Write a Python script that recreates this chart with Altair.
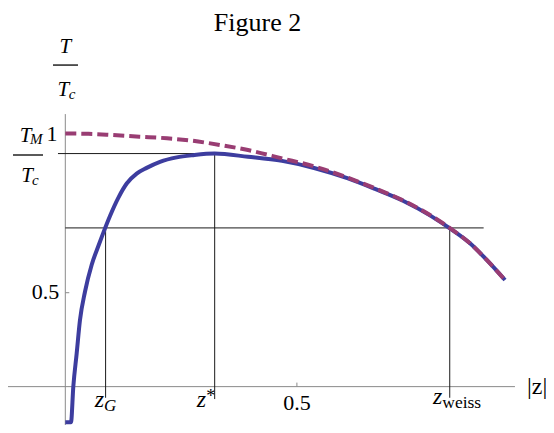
import altair as alt
import pandas as pd

# ---- data ----
blue_z = [0.0, 0.0123, 0.0173, 0.0246, 0.0317, 0.0425, 0.0570, 0.0712, 0.0820, 0.0965,
          0.1144, 0.1326, 0.1541, 0.1757, 0.2044, 0.2405, 0.2763, 0.3225, 0.3944, 0.4678,
          0.5391, 0.6103, 0.6686, 0.7290, 0.7873, 0.8342, 0.8737, 0.9098, 0.9493]
blue_T = [0.093, 0.093, 0.205, 0.310, 0.414, 0.503, 0.588, 0.646, 0.688, 0.741,
          0.798, 0.843, 0.874, 0.892, 0.911, 0.925, 0.932, 0.937, 0.927, 0.914,
          0.891, 0.859, 0.826, 0.789, 0.743, 0.698, 0.655, 0.603, 0.540]

dash_z = [0.0, 0.05, 0.1030, 0.1600, 0.2196, 0.2757, 0.3340, 0.3944, 0.4678, 0.5391,
          0.6103, 0.6686, 0.7290, 0.7873, 0.8342, 0.8737, 0.9098, 0.9493]
dash_T = [1.0, 0.999, 0.995, 0.990, 0.985, 0.977, 0.964, 0.948, 0.922, 0.896,
          0.861, 0.828, 0.790, 0.744, 0.699, 0.655, 0.603, 0.540]

Z_G = 0.087
Z_STAR = 0.3225
Z_WEISS = 0.830
X_TICKS = [0.5]
Y_TICKS = [0.5, 1.0]
T_M = 0.937
T_LEVEL = 0.7035
AXIS_T = 0.205      # height at which the |z| axis is drawn
AXIS_Z = 0.0
X_AXIS_END = 0.9708
Y_AXIS_TOP = 1.061

X_DOMAIN = [-0.1237, 1.0378]
Y_DOMAIN = [0.0845, 1.3942]

FONT = "'Times New Roman', 'Liberation Serif', Times, serif"
BLUE = "#3d3d9f"
MAGENTA = "#993d73"

X = alt.X("z:Q", scale=alt.Scale(domain=X_DOMAIN, nice=False, zero=False), axis=None)
Y = alt.Y("T:Q", scale=alt.Scale(domain=Y_DOMAIN, nice=False, zero=False), axis=None)

blue_df = pd.DataFrame({"z": blue_z, "T": blue_T})
dash_df = pd.DataFrame({"z": dash_z, "T": dash_T})

blue = alt.Chart(blue_df).mark_line(color=BLUE, strokeWidth=4, interpolate="monotone").encode(x=X, y=Y)
dashed = alt.Chart(dash_df).mark_line(color=MAGENTA, strokeWidth=4, strokeDash=[11, 5],
                                      strokeCap="butt", interpolate="monotone").encode(x=X, y=Y)


def rules(rows, color, width):
    df = pd.DataFrame(rows, columns=["z", "z2", "T", "T2"])
    return alt.Chart(df).mark_rule(color=color, strokeWidth=width).encode(
        x=X, x2="z2:Q", y=Y, y2="T2:Q")


axes = rules([
    [X_DOMAIN[0], X_AXIS_END, AXIS_T, AXIS_T],
    [AXIS_Z, AXIS_Z, Y_DOMAIN[0], Y_AXIS_TOP],
] + [[t, t, AXIS_T, AXIS_T + 0.0126] for t in X_TICKS]
  + [[AXIS_Z, AXIS_Z + 0.0086, t, t] for t in Y_TICKS], "#8a8a8a", 1)

refs = rules([
    [-0.0158, Z_STAR, T_M, T_M],
    [AXIS_Z, 0.9032, T_LEVEL, T_LEVEL],
    [Z_G, Z_G, 0.170, T_LEVEL],
    [Z_STAR, Z_STAR, 0.166, T_M],
    [Z_WEISS, Z_WEISS, 0.170, T_LEVEL],
], "#1a1a1a", 1)

bars = rules([
    [-0.0266, 0.0274, 1.215, 1.215],
    [-0.1129, -0.0481, 0.9325, 0.9325],
], "#000000", 1.3)


def label(text, z, T, dx=0, dy=0, align="center", baseline="alphabetic", size=22, italic=False):
    df = pd.DataFrame({"z": [z], "T": [T], "t": [text]})
    return alt.Chart(df).mark_text(
        dx=dx, dy=dy, align=align, baseline=baseline, fontSize=size, font=FONT,
        fontStyle="italic" if italic else "normal", color="black"
    ).encode(x=X, y=Y, text="t:N")


labels = [
    label("Figure 2", 0.4149, 1.3219, size=26),
    # y-axis label T / T_c
    label("T", AXIS_Z, 1.215, dx=0, dy=-12, size=21, italic=True),
    label("T", AXIS_Z, 1.215, dx=4, dy=31, align="right", size=21, italic=True),
    label("c", AXIS_Z, 1.215, dx=3.5, dy=34, align="left", size=15, italic=True),
    # T_M / T_c
    label("T", AXIS_Z, T_M, dx=-33.8, dy=-11.8, align="right", size=21, italic=True),
    label("M", AXIS_Z, T_M, dx=-35.3, dy=-10, align="left", size=15, italic=True),
    label("T", AXIS_Z, T_M, dx=-32.3, dy=28, align="right", size=21, italic=True),
    label("c", AXIS_Z, T_M, dx=-33.3, dy=31.5, align="left", size=15, italic=True),
    # y tick labels
    label("1", AXIS_Z, 1.0, dx=-7.8, dy=0, align="right", baseline="middle", size=22),
    label("0.5", AXIS_Z, 0.5, dx=-6, dy=-1, align="right", baseline="middle", size=22),
    # x tick labels
    label("0.5", 0.5, AXIS_T, dy=23, size=22),
    label("z", Z_G, AXIS_T, dx=-1.5, dy=20, align="right", size=24, italic=True),
    label("G", Z_G, AXIS_T, dx=-1.5, dy=24.5, align="left", size=17, italic=True),
    label("z", Z_STAR, AXIS_T, dx=-8.5, dy=20, align="right", size=24, italic=True),
    label("*", Z_STAR, AXIS_T, dx=-8.5, dy=15, align="left", size=18),
    label("z", Z_WEISS, AXIS_T, dx=-7.5, dy=17.5, align="right", size=24, italic=True),
    label("weiss", Z_WEISS, AXIS_T, dx=-7.5, dy=21.5, align="left", size=17.5),
    label("|z|", X_AXIS_END, AXIS_T, dx=12, dy=0, align="left", baseline="middle", size=24),
]

chart = alt.layer(axes, refs, bars, blue, dashed, *labels).properties(
    width=538, height=417,
    autosize=alt.AutoSizeParams(type="none"),
    padding=0,
    background="white",
).configure_view(stroke=None)

chart.save("out.html", embed_options={"renderer": "svg", "actions": False})
